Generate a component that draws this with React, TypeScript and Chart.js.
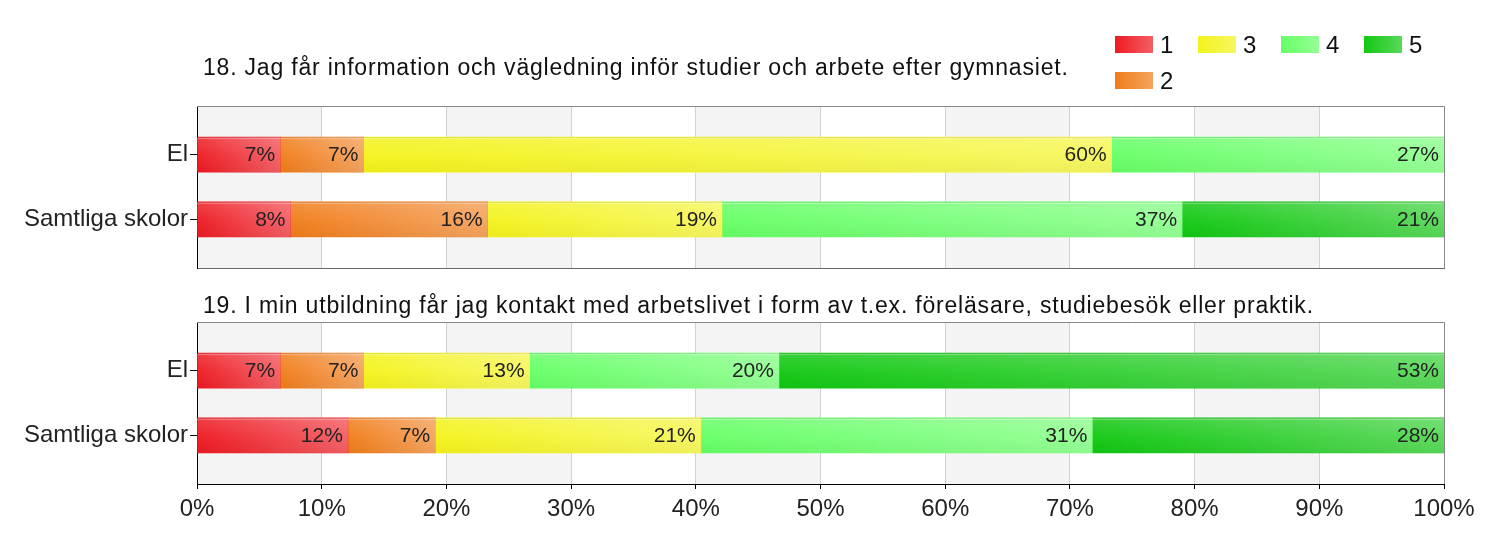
import React, { useEffect, useRef } from 'react';
import { Chart, registerables } from 'chart.js';

Chart.register(...registerables);

const FONT = '"Liberation Sans", Arial, sans-serif';

const categories = ['El', 'Samtliga skolor'];
const seriesNames = ['1', '2', '3', '4', '5'];
const seriesColors = ['#ee1a22', '#f07c1a', '#f3f31c', '#66ff66', '#12c812'];

const q18Title = '18. Jag får information och vägledning inför studier och arbete efter gymnasiet.';
const q18s1 = [6.67, 7.5];
const q18s2 = [6.67, 15.8];
const q18s3 = [60.0, 18.8];
const q18s4 = [26.66, 36.9];
const q18s5 = [0, 21.0];

const q19Title = '19. I min utbildning får jag kontakt med arbetslivet i form av t.ex. föreläsare, studiebesök eller praktik.';
const q19s1 = [6.67, 12.1];
const q19s2 = [6.67, 7.0];
const q19s3 = [13.33, 21.3];
const q19s4 = [20.0, 31.4];
const q19s5 = [53.33, 28.2];

const xTickStep = 10;

const q18Series = [q18s1, q18s2, q18s3, q18s4, q18s5];
const q19Series = [q19s1, q19s2, q19s3, q19s4, q19s5];

const panelPlugin = {
  id: 'panelDeco',
  beforeDraw(chart: any) {
    const { ctx, chartArea: a, scales } = chart;
    const xs = scales.x;
    ctx.save();
    ctx.fillStyle = '#ffffff';
    ctx.fillRect(a.left, a.top, a.right - a.left, a.bottom - a.top);
    ctx.fillStyle = '#f4f4f4';
    for (let v = 0; v < 100; v += 20) {
      const l = xs.getPixelForValue(v);
      const r = xs.getPixelForValue(v + 10);
      ctx.fillRect(l, a.top, r - l, a.bottom - a.top);
    }
    ctx.restore();
  },
  afterDatasetsDraw(chart: any) {
    const { ctx, chartArea: a } = chart;
    ctx.save();
    chart.data.datasets.forEach((ds: any, di: number) => {
      const meta = chart.getDatasetMeta(di);
      meta.data.forEach((el: any, i: number) => {
        const p = el.getProps(['x', 'y', 'base', 'height'], true);
        const left = Math.min(p.x, p.base);
        const right = Math.max(p.x, p.base);
        if (right - left < 1) return;
        const top = p.y - p.height / 2;
        const h = p.height;
        const g1 = ctx.createLinearGradient(left, 0, right, 0);
        g1.addColorStop(0, 'rgba(255,255,255,0)');
        g1.addColorStop(1, 'rgba(255,255,255,0.3)');
        ctx.fillStyle = g1;
        ctx.fillRect(left, top, right - left, h);
        const g2 = ctx.createLinearGradient(0, top, 0, top + h);
        g2.addColorStop(0, 'rgba(255,255,255,0.16)');
        g2.addColorStop(0.55, 'rgba(255,255,255,0.04)');
        g2.addColorStop(1, 'rgba(0,0,0,0.03)');
        ctx.fillStyle = g2;
        ctx.fillRect(left, top, right - left, h);
        ctx.fillStyle = 'rgba(0,0,0,0.08)';
        ctx.fillRect(left, top, right - left, 1);
        ctx.fillStyle = 'rgba(255,255,255,0.3)';
        ctx.fillRect(left, top + 1, right - left, 1);
        const v = ds.data[i].x;
        if (v > 0) {
          ctx.fillStyle = '#222222';
          ctx.font = `21px ${FONT}`;
          ctx.textAlign = 'right';
          ctx.textBaseline = 'middle';
          ctx.fillText(Math.round(v) + '%', right - 5, p.y + 1);
        }
      });
    });
    ctx.strokeStyle = '#888888';
    ctx.lineWidth = 1;
    ctx.beginPath();
    ctx.moveTo(a.left, a.top + 0.5);
    ctx.lineTo(a.right + 0.5, a.top + 0.5);
    ctx.lineTo(a.right + 0.5, a.bottom);
    ctx.stroke();
    ctx.restore();
  },
};

function makeConfig(series: number[][], showX: boolean, padTop: number, xHeight: number) {
  return {
    type: 'bar' as const,
    data: {
      datasets: series.map((vals, si) => ({
        label: seriesNames[si],
        data: vals.map((v, i) => ({ x: v, y: i })),
        backgroundColor: seriesColors[si],
        borderWidth: 0,
        barThickness: 35,
      })),
    },
    options: {
      indexAxis: 'y' as const,
      responsive: false,
      maintainAspectRatio: false,
      animation: false as const,
      layout: { padding: { top: padTop, right: 56, left: 0, bottom: 0 } },
      plugins: { legend: { display: false }, title: { display: false }, tooltip: { enabled: false } },
      scales: {
        x: {
          type: 'linear' as const,
          stacked: true,
          min: 0,
          max: 100,
          offset: false,
          afterFit: (s: any) => { s.height = xHeight; },
          ticks: {
            display: showX,
            stepSize: xTickStep,
            callback: (v: any) => v + '%',
            color: '#222222',
            font: { family: FONT, size: 24 },
            padding: 6,
            maxRotation: 0,
          },
          grid: {
            color: '#d2d2d2',
            drawOnChartArea: true,
            drawTicks: showX,
            tickLength: 5,
            tickColor: '#000000',
            offset: false,
          },
          border: { display: true, color: showX ? '#000000' : '#6a6a6a', width: 1 },
        },
        y: {
          type: 'linear' as const,
          stacked: true,
          reverse: true,
          offset: false,
          min: -0.75,
          max: categories.length - 0.25,
          afterFit: (s: any) => { s.width = 197; },
          afterBuildTicks: (s: any) => { s.ticks = categories.map((_, i) => ({ value: i })); },
          ticks: {
            callback: (v: any) => categories[v] ?? '',
            color: '#222222',
            font: { family: FONT, size: 24 },
            padding: 2,
          },
          grid: { drawOnChartArea: false, drawTicks: true, tickLength: 7, tickColor: '#000000', offset: false },
          border: { display: true, color: '#000000', width: 1 },
        },
      },
    },
    plugins: [panelPlugin],
  };
}

function Panel({ series, showX, top, height, padTop, xHeight }: any) {
  const ref = useRef<HTMLCanvasElement | null>(null);
  useEffect(() => {
    if (!ref.current) return;
    const chart = new Chart(ref.current, makeConfig(series, showX, padTop, xHeight) as any);
    return () => chart.destroy();
  }, []);
  return (
    <canvas
      ref={ref}
      width={1500}
      height={height}
      style={{ position: 'absolute', left: 0, top, width: 1500, height }}
    />
  );
}

function LegendBox({ color }: { color: string }) {
  return (
    <div style={{ width: 38, height: 17, background: color, position: 'relative', overflow: 'hidden' }}>
      <div
        style={{
          position: 'absolute',
          inset: 0,
          background: 'linear-gradient(to right, rgba(255,255,255,0), rgba(255,255,255,0.3))',
        }}
      />
    </div>
  );
}

const legendPos = [
  { x: 1115, y: 36 },
  { x: 1115, y: 72 },
  { x: 1198, y: 36 },
  { x: 1281, y: 36 },
  { x: 1364, y: 36 },
];

const titleStyle: React.CSSProperties = {
  position: 'absolute',
  left: 203,
  fontSize: 23,
  letterSpacing: '0.8px',
  lineHeight: '28px',
  color: '#111',
  whiteSpace: 'nowrap',
};

export default function App() {
  useEffect(() => {
    document.body.style.margin = '0';
  }, []);
  return (
    <div style={{ position: 'relative', width: 1500, height: 537, background: '#fff', fontFamily: FONT, overflow: 'hidden' }}>
      <Panel series={q18Series} showX={false} top={0} height={290} padTop={106} xHeight={22} />
      <Panel series={q19Series} showX={true} top={280} height={257} padTop={42} xHeight={53} />
      <div style={{ ...titleStyle, top: 53 }}>{q18Title}</div>
      <div style={{ ...titleStyle, top: 291 }}>{q19Title}</div>
      {seriesNames.map((n, i) => (
        <div key={n} style={{ position: 'absolute', left: legendPos[i].x, top: legendPos[i].y, display: 'flex', alignItems: 'center' }}>
          <LegendBox color={seriesColors[i]} />
          <span style={{ marginLeft: 7, fontSize: 24, lineHeight: '17px', color: '#111' }}>{n}</span>
        </div>
      ))}
    </div>
  );
}
